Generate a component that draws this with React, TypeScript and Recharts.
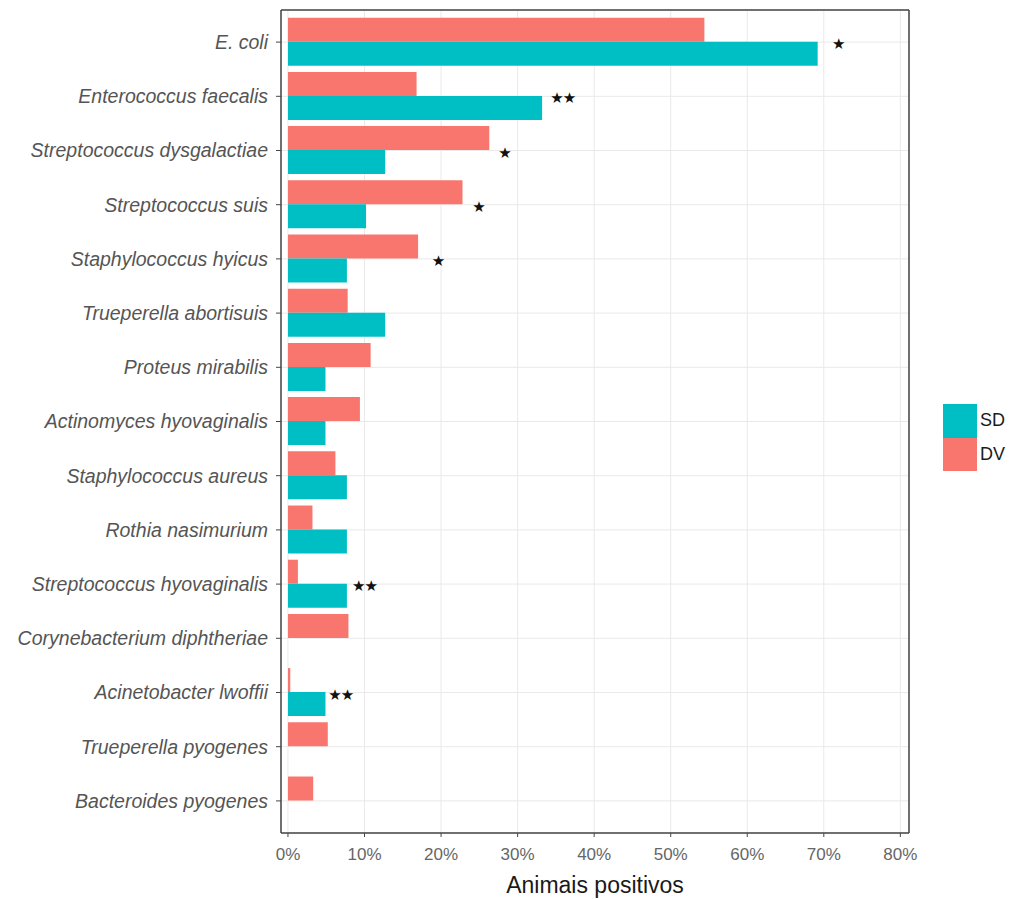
import { BarChart, Bar, XAxis, YAxis, CartesianGrid, ReferenceDot, Label } from 'recharts';

const categories = [
  'E. coli',
  'Enterococcus faecalis',
  'Streptococcus dysgalactiae',
  'Streptococcus suis',
  'Staphylococcus hyicus',
  'Trueperella abortisuis',
  'Proteus mirabilis',
  'Actinomyces hyovaginalis',
  'Staphylococcus aureus',
  'Rothia nasimurium',
  'Streptococcus hyovaginalis',
  'Corynebacterium diphtheriae',
  'Acinetobacter lwoffii',
  'Trueperella pyogenes',
  'Bacteroides pyogenes',
];

// % of positive animals per group
const dvValues = [54.4, 16.8, 26.3, 22.8, 17.0, 7.8, 10.8, 9.4, 6.2, 3.2, 1.3, 7.9, 0.3, 5.2, 3.3];
const sdValues = [69.2, 33.2, 12.7, 10.2, 7.7, 12.7, 4.9, 4.9, 7.7, 7.7, 7.7, 0, 4.9, 0, 0];

// significance markers and where they sit on the x scale
const sigMarks = ['*', '**', '*', '*', '*', '', '', '', '', '', '**', '', '**', '', ''];
const sigX = [71.9, 35.9, 28.3, 24.9, 19.6, 0, 0, 0, 0, 0, 10.0, 0, 6.9, 0, 0];

const majorTicks = [0, 10, 20, 30, 40, 50, 60, 70, 80];
const minorTicks = [5, 15, 25, 35, 45, 55, 65, 75];
const xDomain = [-0.91, 81.13];

const data = categories.map((name, i) => ({ name, dv: dvValues[i], sd: sdValues[i] }));

const legendItems = [
  { label: 'SD', color: '#00BFC4' },
  { label: 'DV', color: '#F8766D' },
];

const FONT = '"Liberation Sans", Arial, sans-serif';
const BORDER = '#454545';

const StarShape = (text: string) => (props: any) => (
  <text
    x={props.cx}
    y={props.cy}
    dy={7}
    textAnchor="middle"
    fontFamily='"DejaVu Sans", sans-serif'
    fontSize={15}
    letterSpacing={-1}
    fill="#111"
  >
    {text.replace(/\*/g, '\u2605')}
  </text>
);

export default function App() {
  return (
    <div style={{ position: 'absolute', left: 0, top: 0, width: 1023, height: 899, background: '#fff', fontFamily: FONT }}>
      <BarChart
        width={1023}
        height={899}
        data={data}
        layout="vertical"
        margin={{ top: 9, right: 113, bottom: 0, left: 0 }}
        barCategoryGap="5%"
        barGap={0}
      >
        <CartesianGrid xAxisId="top" horizontal={false} stroke="#f1f1f1" strokeWidth={1} />
        <CartesianGrid stroke="#e9e9e9" strokeWidth={1} />
        <XAxis
          type="number"
          domain={xDomain}
          allowDataOverflow
          ticks={majorTicks}
          tickFormatter={(v) => `${v}%`}
          height={66}
          tickSize={4}
          tickMargin={11}
          tickLine={{ stroke: BORDER }}
          axisLine={{ stroke: BORDER, strokeWidth: 1.5 }}
          tick={{ fill: '#666', fontSize: 17, fontFamily: FONT }}
        >
          <Label
            value="Animais positivos"
            position="insideBottom"
            offset={6}
            style={{ fill: '#1a1a1a', fontSize: 23, fontFamily: FONT }}
          />
        </XAxis>
        <XAxis
          xAxisId="top"
          orientation="top"
          type="number"
          domain={xDomain}
          allowDataOverflow
          ticks={minorTicks}
          height={1}
          tick={false}
          tickLine={false}
          axisLine={{ stroke: BORDER, strokeWidth: 1.5 }}
        />
        <YAxis
          type="category"
          dataKey="name"
          width={281}
          padding={{ top: 5, bottom: 5 }}
          interval={0}
          tickSize={5}
          tickMargin={8}
          tickLine={{ stroke: BORDER }}
          axisLine={{ stroke: BORDER, strokeWidth: 1.5 }}
          tick={{ fill: '#555', fontSize: 19.5, fontStyle: 'italic', fontFamily: FONT }}
        />
        <YAxis
          yAxisId="right"
          orientation="right"
          type="category"
          dataKey="name"
          width={1}
          tick={false}
          tickLine={false}
          axisLine={{ stroke: BORDER, strokeWidth: 1.5 }}
        />
        <Bar dataKey="dv" fill="#F8766D" isAnimationActive={false} />
        <Bar dataKey="sd" fill="#00BFC4" isAnimationActive={false} />
        {categories.map((name, i) =>
          sigMarks[i] ? (
            <ReferenceDot key={name} x={sigX[i]} y={name} r={0} shape={StarShape(sigMarks[i])} />
          ) : null
        )}
      </BarChart>
      <div style={{ position: 'absolute', left: 943, top: 404 }}>
        {legendItems.map((item) => (
          <div key={item.label} style={{ display: 'flex', alignItems: 'center', height: 33.5 }}>
            <div style={{ width: 34, height: 33.5, background: item.color }} />
            <span style={{ marginLeft: 3, fontSize: 18, color: '#1a1a1a', fontFamily: FONT }}>{item.label}</span>
          </div>
        ))}
      </div>
    </div>
  );
}
